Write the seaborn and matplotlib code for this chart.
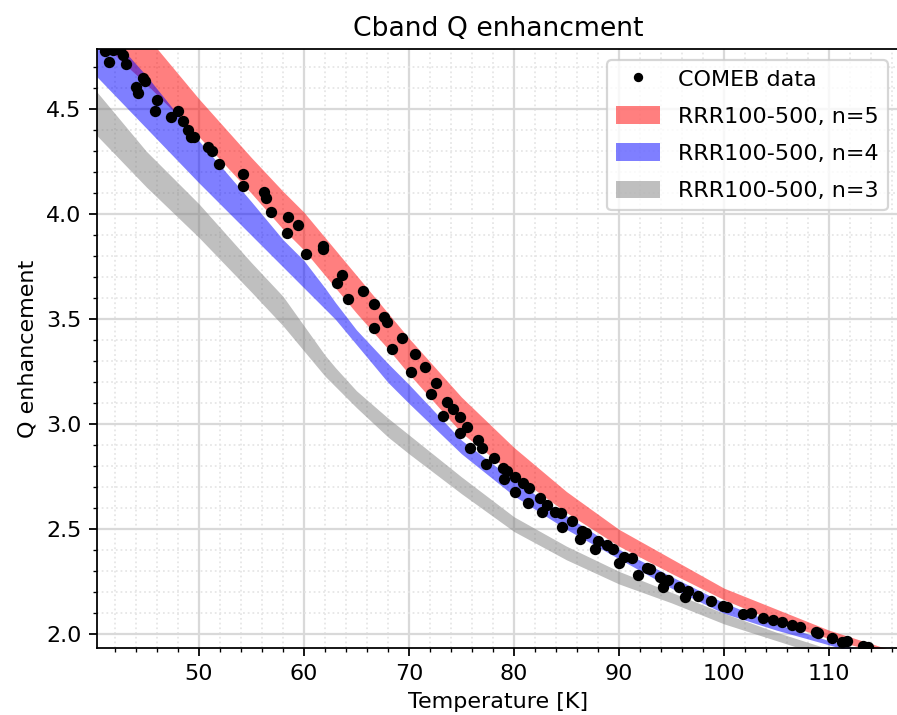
import numpy as np
import pandas as pd
import matplotlib
matplotlib.use('Agg')
import matplotlib.pyplot as plt
import seaborn as sns
from matplotlib.lines import Line2D
from matplotlib.patches import Patch
from matplotlib.ticker import MultipleLocator

# COMEB measurement points (Temperature [K], Q enhancement)
temp_data = [41.05, 41.84, 42.5, 42.8, 41.4, 43.1, 44.7, 44.9, 44.0, 44.16,
             45.97, 45.81, 47.33, 48.03, 48.5, 48.98, 49.24, 49.56, 50.83, 51.27,
             51.9, 54.22, 54.22, 56.2, 56.35, 56.86, 58.5, 59.4, 58.38, 60.16,
             61.78, 61.78, 63.6, 63.2, 64.2, 65.6, 66.7, 67.65, 67.9, 66.7,
             69.3, 68.35, 70.57, 70.2, 71.5, 72.57, 72.06, 73.65, 74.22, 73.27,
             74.86, 75.49, 74.86, 76.6, 77.0, 75.8, 78.1, 77.33, 79.0, 79.36,
             79.04, 80.1, 80.9, 81.4, 80.1, 81.36, 82.5, 83.17, 82.63, 83.9,
             84.44, 84.6, 85.49, 86.44, 86.85, 86.3, 88.03, 87.71, 88.82, 89.46,
             90.47, 91.2, 90.03, 92.63, 91.84, 93.0, 93.9, 94.7, 94.16, 95.71,
             96.6, 96.28, 97.55, 98.8, 99.9, 100.3, 101.8, 102.6, 103.7, 104.7,
             105.5, 106.5, 107.2, 108.8, 109.0, 110.25, 111.2, 111.7, 113.27, 113.75]
q_data = [4.777, 4.782, 4.78, 4.758, 4.727, 4.714, 4.65, 4.635, 4.608, 4.576,
          4.544, 4.492, 4.465, 4.492, 4.444, 4.401, 4.37, 4.37, 4.322, 4.301,
          4.238, 4.19, 4.136, 4.108, 4.076, 4.012, 3.989, 3.949, 3.912, 3.811,
          3.85, 3.835, 3.711, 3.671, 3.595, 3.635, 3.573, 3.512, 3.485, 3.457,
          3.409, 3.357, 3.333, 3.247, 3.274, 3.195, 3.143, 3.108, 3.071, 3.041,
          3.033, 2.989, 2.957, 2.925, 2.887, 2.886, 2.841, 2.81, 2.794, 2.779,
          2.74, 2.751, 2.719, 2.695, 2.679, 2.624, 2.651, 2.616, 2.584, 2.584,
          2.576, 2.51, 2.541, 2.492, 2.484, 2.452, 2.446, 2.406, 2.425, 2.406,
          2.37, 2.362, 2.338, 2.318, 2.283, 2.31, 2.275, 2.259, 2.227, 2.227,
          2.208, 2.18, 2.183, 2.161, 2.135, 2.129, 2.097, 2.1, 2.076, 2.069,
          2.061, 2.045, 2.037, 2.013, 2.005, 1.984, 1.965, 1.969, 1.946, 1.942]

# simulated bands for RRR 100-500 (lower / upper edges)
temp_band = [40, 45, 50, 55, 58, 60, 62, 63, 65, 68, 70, 75, 80, 85, 90, 95, 100, 105, 110, 115, 117]
n5_hi = [5.15, 4.85, 4.55, 4.27, 4.11, 4.01, 3.89, 3.83, 3.71, 3.53, 3.41, 3.13, 2.89, 2.68, 2.50, 2.36, 2.22, 2.12, 2.02, 1.94, 1.91]
n5_lo = [4.85, 4.62, 4.37, 4.10, 3.93, 3.83, 3.71, 3.65, 3.53, 3.36, 3.24, 2.96, 2.76, 2.58, 2.42, 2.29, 2.165, 2.06, 1.98, 1.91, 1.88]
n4_hi = [4.94, 4.66, 4.35, 4.06, 3.88, 3.78, 3.65, 3.58, 3.45, 3.29, 3.19, 2.925, 2.735, 2.565, 2.405, 2.275, 2.15, 2.05, 1.97, 1.90, 1.87]
n4_lo = [4.67, 4.41, 4.15, 3.90, 3.75, 3.65, 3.55, 3.50, 3.38, 3.20, 3.10, 2.86, 2.66, 2.50, 2.36, 2.22, 2.10, 2.02, 1.95, 1.88, 1.86]
n3_hi = [4.60, 4.30, 4.05, 3.77, 3.61, 3.47, 3.33, 3.27, 3.16, 3.03, 2.95, 2.75, 2.56, 2.42, 2.30, 2.20, 2.10, 2.01, 1.93, 1.86, 1.84]
n3_lo = [4.39, 4.13, 3.89, 3.63, 3.47, 3.35, 3.23, 3.18, 3.08, 2.94, 2.86, 2.67, 2.49, 2.355, 2.24, 2.15, 2.05, 1.97, 1.89, 1.83, 1.81]

df = pd.DataFrame({'T': temp_data, 'Q': q_data})

fig = plt.figure(figsize=(897 / 160, 715 / 160), dpi=160)
ax = fig.add_axes([97 / 897, 1 - 648 / 715, (899 - 97) / 897, (648 - 49) / 715])

ax.fill_between(temp_band, n5_lo, n5_hi, color='red', alpha=0.5, lw=0)
ax.fill_between(temp_band, n4_lo, n4_hi, color='blue', alpha=0.5, lw=0)
ax.fill_between(temp_band, n3_lo, n3_hi, color='gray', alpha=0.5, lw=0)
sns.scatterplot(data=df, x='T', y='Q', color='black', s=26, linewidth=0, zorder=3, ax=ax)

ax.set_xlim(40.3, 116.67)
ax.set_ylim(1.935, 4.787)
ax.xaxis.set_major_locator(MultipleLocator(10))
ax.xaxis.set_minor_locator(MultipleLocator(2))
ax.yaxis.set_major_locator(MultipleLocator(0.5))
ax.yaxis.set_minor_locator(MultipleLocator(0.1))
ax.set_axisbelow(True)
ax.grid(which='major', color='#d9d9d9', lw=1.0)
ax.grid(which='minor', color='#e6e6e6', lw=0.8, ls=':')

ax.set_title('Cband Q enhancment')
ax.set_xlabel('Temperature [K]')
ax.set_ylabel('Q enhancement')

handles = [
    Line2D([], [], ls='', marker='o', color='black', markersize=3.2),
    Patch(facecolor='red', alpha=0.5),
    Patch(facecolor='blue', alpha=0.5),
    Patch(facecolor='gray', alpha=0.5),
]
labels = ['COMEB data', 'RRR100-500, n=5', 'RRR100-500, n=4', 'RRR100-500, n=3']
ax.legend(handles, labels, loc='upper right', handleheight=0.85, labelspacing=0.75)

fig.savefig('out.png', dpi=160)
